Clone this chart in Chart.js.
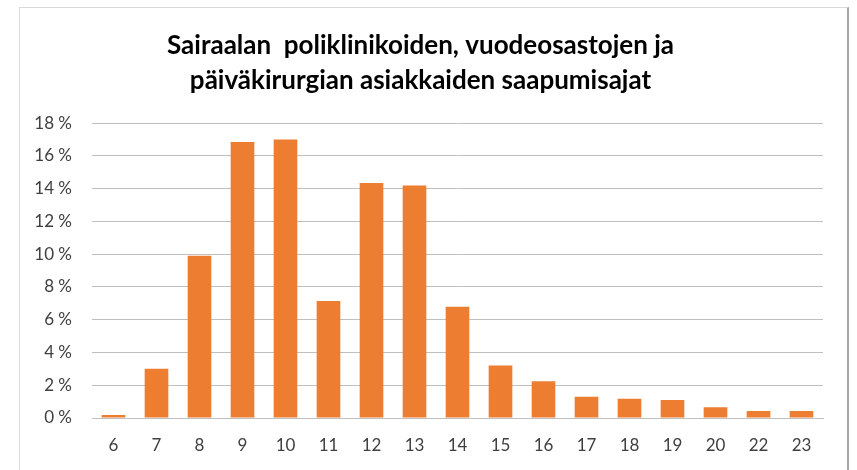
<!DOCTYPE html>
<html>
<head>
<meta charset="utf-8">
<script src="https://cdn.jsdelivr.net/npm/chart.js@4.4.1/dist/chart.umd.min.js"></script>
<style>
  html, body { margin: 0; padding: 0; background: #fff; }
  #wrap { position: relative; width: 857px; height: 470px; }
  #frame { position: absolute; left: 19px; top: 7px; width: 827px; height: 470px;
           border-left: 1px solid #d9d9d9; border-top: 1px solid #d9d9d9; border-right: 2px solid #a6a6a6; }
  canvas { position: absolute; left: 0; top: 0; }
</style>
</head>
<body>
<div id="wrap">
  <div id="frame"></div>
  <canvas id="c" width="857" height="470"></canvas>
</div>
<script>
const titleLines = ['Sairaalan  poliklinikoiden, vuodeosastojen ja', 'päiväkirurgian asiakkaiden saapumisajat'];
const hours = ['6', '7', '8', '9', '10', '11', '12', '13', '14', '15', '16', '17', '18', '19', '20', '22', '23'];
const shares = [0.18, 3.0, 9.9, 16.85, 17.0, 7.15, 14.35, 14.2, 6.8, 3.2, 2.25, 1.3, 1.17, 1.1, 0.66, 0.42, 0.42];
const yTicks = [0, 2, 4, 6, 8, 10, 12, 14, 16, 18];

const FONT = 'Lato, "Open Sans", sans-serif';

new Chart(document.getElementById('c'), {
  type: 'bar',
  data: {
    labels: hours,
    datasets: [{
      data: shares,
      backgroundColor: '#ED7D31',
      borderWidth: 0,
      categoryPercentage: 1.0,
      barPercentage: 0.55
    }]
  },
  options: {
    responsive: false,
    animation: false,
    layout: { padding: { left: 18, right: 34, top: 0, bottom: 0 } },
    plugins: {
      legend: { display: false },
      tooltip: { enabled: false },
      title: {
        display: true,
        text: titleLines,
        color: '#000',
        font: { family: FONT, size: 26, weight: 'bold', lineHeight: 1.35 },
        padding: { top: 28, bottom: 25 }
      }
    },
    scales: {
      x: {
        grid: { display: false, drawTicks: false },
        border: { display: true, color: '#bfbfbf', width: 1 },
        ticks: { color: '#404040', font: { family: FONT, size: 17 }, padding: 17, maxRotation: 0 },
        afterFit: (axis) => { axis.height = 52; }
      },
      y: {
        min: 0, max: 18,
        afterBuildTicks: (axis) => { axis.ticks = yTicks.map(v => ({ value: v })); },
        grid: { color: '#bfbfbf', drawTicks: false, lineWidth: 1 },
        border: { display: false },
        ticks: {
          color: '#404040', font: { family: FONT, size: 17 }, padding: 20,
          callback: (v) => v + ' %'
        },
        afterFit: (axis) => { axis.width = 74; }
      }
    }
  }
});
</script>
</body>
</html>
